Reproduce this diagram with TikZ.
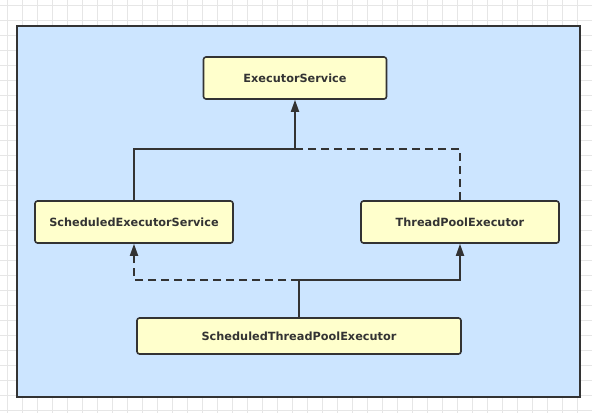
\documentclass[tikz,border=0pt]{standalone}
\usepackage{fontspec}
\setmainfont{DejaVu Sans}
\usepackage{xcolor}
\usetikzlibrary{arrows.meta, positioning}

\definecolor{paneblue}{HTML}{CCE5FF}
\definecolor{boxyellow}{HTML}{FFFFCC}
\definecolor{inkgray}{HTML}{333333}
\definecolor{gridline}{HTML}{E6E6E6}

\tikzset{
  cls/.style={draw=inkgray, line width=1.6pt, rounded corners=2.5pt, fill=boxyellow,
    text=inkgray, font=\bfseries\fontsize{11.3}{13}\selectfont, minimum height=42pt},
  link/.style={draw=inkgray, line width=1.8pt},
  impl/.style={link, dash pattern=on 8pt off 5pt},
  tip/.style={-{Triangle[length=12pt, width=8pt]}}
}

\begin{document}
\begin{tikzpicture}[x=1pt, y=-1pt]
        \useasboundingbox (0,0) rectangle (592,413);
        \fill[white] (0,0) rectangle (592,413);
        \foreach \gx in {7.7,22.7,...,592} \draw[gridline, line width=0.8pt] (\gx,0) -- (\gx,413);
        \foreach \gy in {5,20,...,413} \draw[gridline, line width=0.8pt] (0,\gy) -- (592,\gy);

        \draw[fill=paneblue, draw=inkgray, line width=2.2pt] (17,26) rectangle (580,397);

        \node[cls, minimum width=183pt] (es)   at (295,78)  {ExecutorService};
        \node[cls, minimum width=198pt] (ses)  at (134,222) {ScheduledExecutorService};
        \node[cls, minimum width=198pt] (tpe)  at (460,222) {ThreadPoolExecutor};
        \node[cls, minimum width=324pt, minimum height=36pt] (stpe) at (299,336) {ScheduledThreadPoolExecutor};

        \coordinate (jtop) at (295,149);
        \coordinate (jbot) at (299,280);

        % upper level
        \draw[link] (ses.north) |- (jtop);
        \draw[link, tip] (jtop) -- (es.south);
        \draw[impl] (tpe.north) |- (jtop);

        % lower level
        \draw[link] (stpe.north) -- (jbot);
        \draw[link, tip] (jbot) -| (tpe.south);
        \draw[impl, tip] (jbot) -| (ses.south);
\end{tikzpicture}
\end{document}
